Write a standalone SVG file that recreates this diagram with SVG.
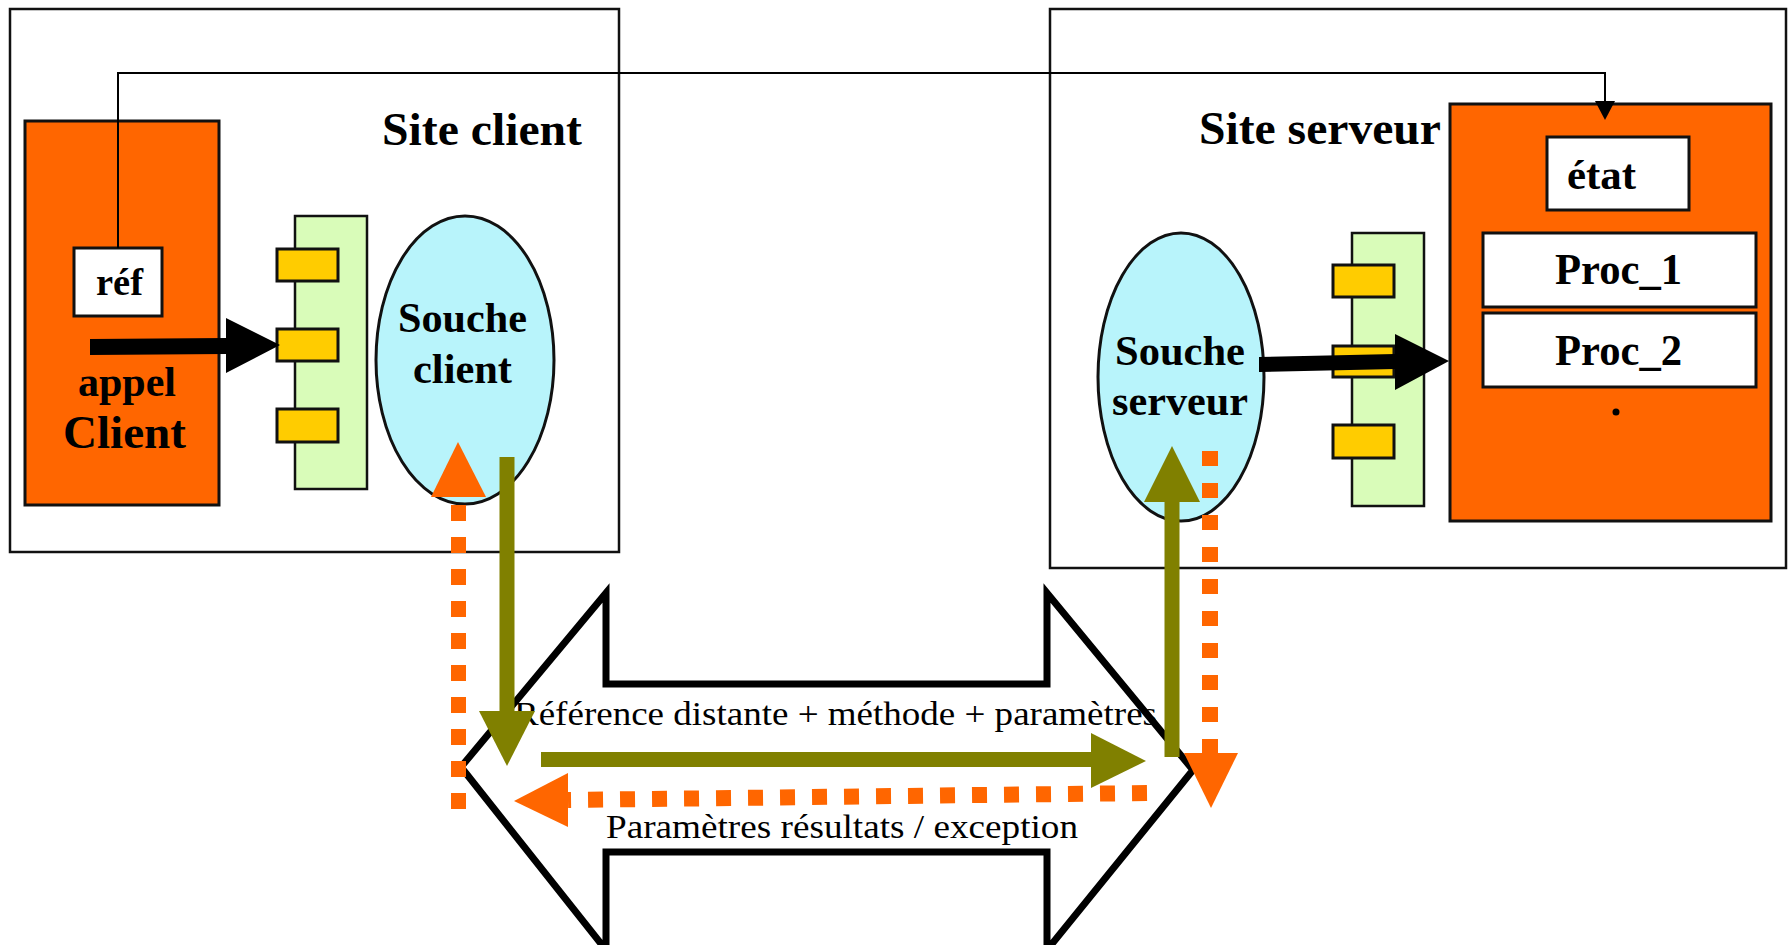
<svg xmlns="http://www.w3.org/2000/svg" width="1788" height="945" viewBox="0 0 1788 945">
  <style>
    .site { fill: #ffffff; stroke: #111111; stroke-width: 2.5; }
    .obj { fill: #ff6600; stroke: #111111; stroke-width: 3; }
    .cell { fill: #ffffff; stroke: #111111; stroke-width: 3; }
    .iface { fill: #d9fcb9; stroke: #111111; stroke-width: 2.5; }
    .pad { fill: #ffcc00; stroke: #111111; stroke-width: 3; }
    .stub { fill: #b8f4fb; stroke: #111111; stroke-width: 3; }
    .bold { font-family: "Liberation Serif", "Times New Roman", serif; font-weight: bold; fill: #000000; }
    .plain { font-family: "Liberation Serif", "Times New Roman", serif; fill: #000000; }
    .olive { fill: #808000; }
    .olive-line { stroke: #808000; stroke-width: 15; fill: none; }
    .req { fill: #ff6600; }
    .dots { stroke: #ff6600; fill: none; }
  </style>

  <!-- client site -->
  <g id="site-client">
    <rect class="site" x="10" y="9" width="609" height="543"/>
    <text class="bold" x="382" y="145" font-size="47" textLength="200" lengthAdjust="spacingAndGlyphs">Site client</text>
  </g>

  <!-- server site -->
  <g id="site-serveur">
    <rect class="site" x="1050" y="9" width="736" height="559"/>
    <text class="bold" x="1199" y="144" font-size="47" textLength="242" lengthAdjust="spacingAndGlyphs">Site serveur</text>
  </g>

  <!-- client object -->
  <g id="client">
    <rect class="obj" x="25" y="121" width="194" height="384"/>
    <text class="bold" x="78" y="396" font-size="42" textLength="98" lengthAdjust="spacingAndGlyphs">appel</text>
    <text class="bold" x="63" y="448" font-size="46" textLength="123" lengthAdjust="spacingAndGlyphs">Client</text>
  </g>

  <g id="ref">
    <rect class="cell" x="74" y="248" width="88" height="68"/>
    <text class="bold" x="96" y="295" font-size="37" textLength="47" lengthAdjust="spacingAndGlyphs">réf</text>
  </g>

  <!-- client interface -->
  <g id="interface-client">
    <rect class="iface" x="295" y="216" width="72" height="273"/>
    <rect class="pad" x="277" y="249" width="61" height="32"/>
    <rect class="pad" x="277" y="329" width="61" height="32"/>
    <rect class="pad" x="277" y="409" width="61" height="33"/>
  </g>

  <g id="souche-client">
    <ellipse class="stub" cx="465" cy="360" rx="89" ry="144"/>
    <text class="bold" x="398" y="332" font-size="43" textLength="129" lengthAdjust="spacingAndGlyphs">Souche</text>
    <text class="bold" x="413" y="383" font-size="43" textLength="99" lengthAdjust="spacingAndGlyphs">client</text>
  </g>

  <!-- server object -->
  <g id="serveur">
    <rect class="obj" x="1450" y="104" width="321" height="417"/>
    <circle cx="1616" cy="412" r="3.5" fill="#000000"/>
  </g>

  <g id="etat">
    <rect class="cell" x="1547" y="137" width="142" height="73"/>
    <text class="bold" x="1567" y="189" font-size="43" textLength="69" lengthAdjust="spacingAndGlyphs">état</text>
  </g>

  <g id="proc-1">
    <rect class="cell" x="1483" y="233" width="273" height="74"/>
    <text class="bold" x="1555" y="284" font-size="44" textLength="127" lengthAdjust="spacingAndGlyphs">Proc_1</text>
  </g>

  <g id="proc-2">
    <rect class="cell" x="1483" y="313" width="273" height="74"/>
    <text class="bold" x="1555" y="365" font-size="44" textLength="127" lengthAdjust="spacingAndGlyphs">Proc_2</text>
  </g>

  <!-- server interface -->
  <g id="interface-serveur">
    <rect class="iface" x="1352" y="233" width="72" height="273"/>
    <rect class="pad" x="1333" y="265" width="61" height="32"/>
    <rect class="pad" x="1333" y="346" width="61" height="31"/>
    <rect class="pad" x="1333" y="425" width="61" height="33"/>
  </g>

  <g id="souche-serveur">
    <ellipse class="stub" cx="1181" cy="377" rx="83" ry="144"/>
    <text class="bold" x="1115" y="365" font-size="43" textLength="130" lengthAdjust="spacingAndGlyphs">Souche</text>
    <text class="bold" x="1112" y="415" font-size="43" textLength="136" lengthAdjust="spacingAndGlyphs">serveur</text>
  </g>

  <!-- network channel: double-headed block arrow -->
  <g id="reseau">
    <path d="M 606 593 L 606 684 L 1047 684 L 1047 593 L 1193 770 L 1047 950 L 1047 852 L 606 852 L 606 950 L 461 767 Z"
          fill="#ffffff" stroke="#000000" stroke-width="7" stroke-linejoin="miter"/>
    <text class="plain" x="514" y="725" font-size="34" textLength="643" lengthAdjust="spacingAndGlyphs">Référence distante + méthode + paramètres</text>
    <text class="plain" x="606" y="838" font-size="34" textLength="472" lengthAdjust="spacingAndGlyphs">Paramètres résultats / exception</text>
  </g>

  <!-- connectors -->
  <g id="connecteurs">
    <!-- reference link: réf -> état -->
    <polyline points="118,248 118,73 1605,73 1605,102" fill="none" stroke="#000000" stroke-width="2"/>
    <polygon points="1595,101 1615,101 1605,120" fill="#000000"/>

    <!-- call: client -> client interface -->
    <polygon points="90,339 226,338 226,318 280,345 226,373 226,354 90,355" fill="#000000"/>

    <!-- dispatch: server stub -> server object -->
    <polygon points="1259,357 1395,354 1395,334 1449,361 1395,390 1395,369 1259,372" fill="#000000"/>

    <!-- request path (olive) -->
    <line class="olive-line" x1="507" y1="457" x2="507" y2="713"/>
    <polygon class="olive" points="479,711 535,711 507,766"/>
    <rect class="olive" x="541" y="752" width="552" height="15"/>
    <polygon class="olive" points="1091,733 1091,788 1146,761"/>
    <line class="olive-line" x1="1172" y1="500" x2="1172" y2="757"/>
    <polygon class="olive" points="1144,502 1200,502 1172,446"/>

    <!-- reply path (orange dotted) -->
    <line class="dots" x1="1210" y1="451" x2="1210" y2="754" stroke-width="16" stroke-dasharray="15 17"/>
    <polygon class="req" points="1184,753 1238,753 1211,808"/>
    <line class="dots" x1="1147" y1="793" x2="568" y2="800" stroke-width="16" stroke-dasharray="15 17"/>
    <polygon class="req" points="568,773 568,827 514,801"/>
    <line class="dots" x1="458.5" y1="809" x2="458.5" y2="505" stroke-width="15" stroke-dasharray="16 16"/>
    <polygon class="req" points="431,497 486,497 458,442"/>
  </g>
</svg>
